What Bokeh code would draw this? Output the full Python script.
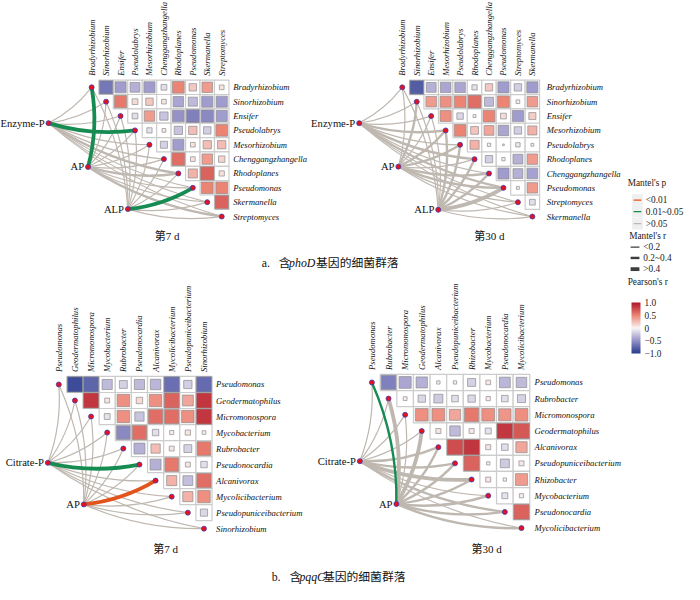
import numpy as np
from bokeh.plotting import figure
from bokeh.models import Range1d, ColumnDataSource, ColorBar, LinearColorMapper, FixedTicker
from bokeh.core.properties import value
from bokeh.embed import file_html
from bokeh.resources import INLINE

# ------------------------------------------------------------------ data
# (a) phoD, day 7
a7_taxa = ["Bradyrhizobium", "Sinorhizobium", "Ensifer", "Pseudolabrys", "Mesorhizobium",
           "Chenggangzhangella", "Rhodoplanes", "Pseudomonas", "Skermanella", "Streptomyces"]
a7_pearson = [
    [-0.65, -0.45, -0.35, -0.45, -0.12, 0.50, 0.20, 0.40, 0.08],
    [0.55, 0.12, 0.20, 0.08, -0.40, -0.30, -0.45, -0.45],
    [-0.12, 0.40, -0.25, -0.50, -0.60, -0.55, -0.45],
    [-0.10, 0.05, -0.25, 0.25, -0.20, 0.50],
    [-0.18, -0.45, 0.08, 0.25, 0.25],
    [0.60, 0.08, 0.40, 0.15],
    [0.30, 0.65, 0.10],
    [0.50, 0.50],
    [0.65],
]
a7_env = ["Enzyme-P", "AP", "ALP"]
a7_mantel_r = [
    [0.12, 0.10, 0.15, 0.45, 0.14, 0.11, 0.25, 0.13, 0.16, 0.09],
    [0.46, 0.12, 0.10, 0.14, 0.13, 0.11, 0.26, 0.15, 0.12, 0.24],
    [0.10, 0.12, 0.09, 0.14, 0.11, 0.13, 0.15, 0.42, 0.12, 0.10],
]
a7_mantel_p = [
    [0.42, 0.55, 0.31, 0.03, 0.28, 0.51, 0.12, 0.38, 0.27, 0.63],
    [0.02, 0.47, 0.58, 0.33, 0.41, 0.52, 0.11, 0.36, 0.44, 0.14],
    [0.61, 0.45, 0.66, 0.29, 0.52, 0.39, 0.27, 0.04, 0.43, 0.57],
]

# (a) phoD, day 30
a30_taxa = ["Bradyrhizobium", "Sinorhizobium", "Ensifer", "Mesorhizobium", "Pseudolabrys",
            "Rhodoplanes", "Chenggangzhangella", "Pseudomonas", "Streptomyces", "Skermanella"]
a30_pearson = [
    [-0.80, -0.35, -0.40, -0.40, -0.10, 0.20, -0.45, -0.20, -0.45],
    [0.40, 0.45, 0.50, 0.60, -0.30, 0.50, 0.05, 0.40],
    [0.45, -0.15, 0.03, 0.50, 0.12, -0.45, 0.18],
    [0.50, 0.22, 0.35, -0.40, -0.20, 0.30],
    [0.30, 0.04, 0.01, -0.07, 0.03],
    [-0.20, 0.04, -0.35, 0.40],
    [-0.45, -0.35, -0.42],
    [0.03, 0.40],
    [-0.12],
]
a30_env = ["Enzyme-P", "AP", "ALP"]
a30_mantel_r = [
    [0.10, 0.12, 0.14, 0.32, 0.15, 0.28, 0.16, 0.30, 0.12, 0.11],
    [0.11, 0.27, 0.13, 0.25, 0.30, 0.15, 0.28, 0.26, 0.12, 0.14],
    [0.09, 0.13, 0.12, 0.26, 0.30, 0.28, 0.32, 0.42, 0.15, 0.13],
]
a30_mantel_p = [
    [0.52, 0.44, 0.37, 0.09, 0.33, 0.12, 0.29, 0.10, 0.48, 0.56],
    [0.61, 0.13, 0.40, 0.15, 0.08, 0.35, 0.11, 0.14, 0.50, 0.42],
    [0.66, 0.39, 0.45, 0.14, 0.09, 0.12, 0.07, 0.06, 0.31, 0.47],
]

# (b) pqqC, day 7
b7_taxa = ["Pseudomonas", "Geodermatophilus", "Micromonospora", "Mycobacterium", "Rubrobacter",
           "Pseudonocardia", "Alcanivorax", "Mycolicibacterium", "Pseudopuniceibacterium", "Sinorhizobium"]
b7_pearson = [
    [-0.90, -0.75, -0.30, -0.18, -0.30, -0.32, -0.70, -0.20, -0.72],
    [0.85, 0.07, 0.45, 0.12, 0.45, 0.65, 0.35, 0.85],
    [-0.10, 0.45, -0.25, 0.60, 0.60, 0.45, 0.85],
    [-0.55, 0.60, -0.12, 0.05, 0.08, 0.04],
    [-0.35, 0.25, 0.07, -0.18, 0.55],
    [-0.35, 0.55, 0.07, -0.12],
    [0.30, -0.28, 0.60],
    [0.30, 0.45],
    [-0.15],
]
b7_env = ["Citrate-P", "AP"]
b7_mantel_r = [
    [0.12, 0.10, 0.13, 0.11, 0.14, 0.45, 0.12, 0.10, 0.13, 0.11],
    [0.13, 0.11, 0.12, 0.10, 0.14, 0.12, 0.46, 0.11, 0.13, 0.12],
]
b7_mantel_p = [
    [0.45, 0.58, 0.36, 0.62, 0.33, 0.02, 0.41, 0.55, 0.39, 0.48],
    [0.37, 0.52, 0.44, 0.66, 0.31, 0.47, 0.006, 0.51, 0.38, 0.43],
]

# (b) pqqC, day 30
b30_taxa = ["Pseudomonas", "Rubrobacter", "Micromonospora", "Geodermatophilus", "Alcanivorax",
            "Pseudopuniceibacterium", "Rhizobacter", "Mycobacterium", "Pseudonocardia", "Mycolicibacterium"]
b30_pearson = [
    [-0.60, -0.40, -0.35, 0.03, 0.03, -0.18, 0.06, -0.32, -0.30],
    [0.04, -0.15, -0.22, -0.12, -0.15, 0.05, -0.12, -0.18],
    [0.45, 0.45, 0.35, 0.55, 0.45, 0.42, 0.45],
    [0.07, -0.30, 0.07, -0.10, 0.85, 0.70],
    [0.75, 0.85, 0.07, -0.12, 0.35],
    [0.65, 0.03, -0.22, 0.07],
    [0.07, 0.03, 0.40],
    [-0.10, 0.05],
    [0.65],
]
b30_env = ["Citrate-P", "AP"]
b30_mantel_r = [
    [0.13, 0.12, 0.14, 0.15, 0.25, 0.27, 0.45, 0.16, 0.26, 0.14],
    [0.35, 0.48, 0.14, 0.42, 0.28, 0.26, 0.30, 0.27, 0.25, 0.28],
]
b30_mantel_p = [
    [0.41, 0.47, 0.35, 0.29, 0.13, 0.11, 0.07, 0.32, 0.12, 0.38],
    [0.03, 0.06, 0.44, 0.08, 0.12, 0.15, 0.10, 0.14, 0.16, 0.11],
]

titles_a = ["第7 d", "第30 d"]
titles_b = ["第7 d", "第30 d"]
colorbar_ticks = [-1.0, -0.5, 0.0, 0.5, 1.0]
colorbar_labels = ["\u22121.0", "\u22120.5", "0", "0.5", "1.0"]
mantel_p_labels = ["<0.01", "0.01~0.05", ">0.05"]
mantel_r_labels = ["<0.2", "0.2~0.4", ">0.4"]

# ------------------------------------------------------------------ style / layout
SERIF = "Liberation Serif"
MIXED = "'Liberation Serif', 'Noto Sans CJK SC'"
C_GRAY, C_GREEN, C_ORANGE = "#bfb8b0", "#178c52", "#e3531c"
W_THIN, W_MED, W_THICK = 1.2, 2.4, 3.8
STOPS = [(-1.0, (38, 58, 140)), (-0.5, (150, 146, 200)), (0.0, (250, 246, 246)),
         (0.5, (236, 132, 116)), (1.0, (176, 22, 40))]


def rcolor(r):
    r = max(-1.0, min(1.0, r))
    for (a, ca), (b, cb) in zip(STOPS[:-1], STOPS[1:]):
        if a <= r <= b:
            t = (r - a) / (b - a)
            c = [int(round(ca[k] + t * (cb[k] - ca[k]))) for k in range(3)]
            return "#%02x%02x%02x" % tuple(c)
    return "#ffffff"


def link_width(r):
    return W_THIN if r < 0.2 else (W_MED if r < 0.4 else W_THICK)


def link_color(pv):
    return C_ORANGE if pv < 0.01 else (C_GREEN if pv < 0.05 else C_GRAY)


W, H = 684, 584
p = figure(width=W, height=H, output_backend="svg", toolbar_location=None,
           x_range=Range1d(0, 698), y_range=Range1d(600, 0),
           x_axis_location=None, y_axis_location=None, min_border=0)
p.grid.visible = False
p.outline_line_color = None
p.background_fill_color = "white"

FS_TAXA = "8.7px"
FS_ENV = "10.6px"


def panel(taxa, pearson, env, mr, mp, L):
    n = len(taxa)
    cw, ch = L["cw"], L["ch"]
    cx = [L["x0"] + j * cw for j in range(n)]
    cy = [L["y0"] + i * ch for i in range(n)]
    xs, ys, ws, hs, cols = [], [], [], [], []
    for i in range(n):
        for j in range(i + 1, n):
            r = pearson[i][j - i - 1]
            f = min(0.95, 1.15 * np.sqrt(abs(r)))
            xs.append(cx[j]); ys.append(cy[i])
            ws.append(cw * f); hs.append(ch * f); cols.append(rcolor(r))
    p.rect(x=xs, y=ys, width=cw, height=ch, fill_color="white",
           line_color="#cccccc", line_width=1.2)
    p.rect(x=xs, y=ys, width=ws, height=hs, fill_color=cols,
           line_color="#8d8d8d", line_width=0.7)

    # mantel links
    ex, ey = L["env_x"], L["env_y"]
    rows = []
    for k in range(len(env)):
        for i in range(n):
            x0, y0, x1, y1 = ex[k], ey[k], cx[i], cy[i]
            dx, dy = x1 - x0, y1 - y0
            kc = 0.11
            rows.append(dict(x0=x0, y0=y0, x1=x1, y1=y1,
                             cx=(x0 + x1) / 2 - kc * dy, cy=(y0 + y1) / 2 + kc * dx,
                             w=link_width(mr[k][i]), c=link_color(mp[k][i]),
                             z=(0 if mp[k][i] >= 0.05 else 1)))
    rows.sort(key=lambda d: (d["z"], d["w"]))
    src = ColumnDataSource({key: [d[key] for d in rows] for key in rows[0]})
    p.quadratic(x0="x0", y0="y0", x1="x1", y1="y1", cx="cx", cy="cy",
                line_width="w", line_color="c", source=src)

    # dots
    p.scatter(x=cx + list(ex), y=cy + list(ey), size=5, fill_color="#e8101a",
              line_color="#3c3cb4", line_width=0.8)

    # labels
    p.text(x=[L["row_lab_x"]] * n, y=cy, text=taxa, text_font=value(SERIF),
           text_font_style="italic", text_font_size=FS_TAXA, text_align="left",
           text_baseline="middle", text_color="#111111")
    top = L["y0"] - ch / 2 - 4.5
    p.text(x=cx, y=[top] * n, text=taxa, angle=np.pi / 2, text_font=value(SERIF),
           text_font_style="italic", text_font_size=FS_TAXA, text_align="left",
           text_baseline="middle", text_color="#111111")
    p.text(x=[x - 4 for x in ex], y=ey, text=env, text_font=value(SERIF),
           text_font_size=FS_ENV, text_align="right", text_baseline="middle",
           text_color="#111111")
    p.text(x=[L["cap_x"]], y=[L["cap_y"]], text=[L["cap"]], text_font=value(MIXED),
           text_font_size="11px", text_align="center", text_baseline="middle",
           text_color="#111111")


panel(a7_taxa, a7_pearson, a7_env, a7_mantel_r, a7_mantel_p,
      dict(x0=93.0, y0=89.2, cw=14.75, ch=14.75, env_x=[49, 89.3, 130], env_y=[126, 171, 214.3],
           row_lab_x=237.5, cap_x=170, cap_y=241.7, cap=titles_a[0]))
panel(a30_taxa, a30_pearson, a30_env, a30_mantel_r, a30_mantel_p,
      dict(x0=410.0, y0=89.25, cw=14.75, ch=14.75, env_x=[366, 406, 446.7], env_y=[126, 170.7, 215],
           row_lab_x=557.5, cap_x=499, cap_y=242, cap=titles_a[1]))
panel(b7_taxa, b7_pearson, b7_env, b7_mantel_r, b7_mantel_p,
      dict(x0=59.5, y0=394.5, cw=16.46, ch=16.46, env_x=[48.3, 85], env_y=[475, 517.7],
           row_lab_x=220, cap_x=168.5, cap_y=563.7, cap=titles_b[0]))
panel(b30_taxa, b30_pearson, b30_env, b30_mantel_r, b30_mantel_p,
      dict(x0=379.0, y0=392.4, cw=16.96, ch=16.63, env_x=[366.7, 404], env_y=[473.3, 517.3],
           row_lab_x=545, cap_x=496, cap_y=564, cap=titles_b[1]))

# captions (a), (b)
CAP_FS = "11.8px"
def caption(parts, y):
    for x, t, ital in parts:
        p.text(x=[x], y=[y], text=[t], text_font=value(MIXED), text_font_size=CAP_FS,
               text_font_style=("italic" if ital else "normal"), text_align="left",
               text_baseline="middle", text_color="#111111")

caption([(266.7, "a.", False), (284, "含", False), (294.5, "phoD", True), (322, "基因的细菌群落", False)], 270)
caption([(276.7, "b.", False), (295, "含", False), (305, "pqqC", True), (329, "基因的细菌群落", False)], 592)

# ------------------------------------------------------------------ legends
LFS = "9.3px"
def ltext(x, y, t):
    p.text(x=[x], y=[y], text=[t], text_font=value(SERIF), text_font_size=LFS,
           text_align="left", text_baseline="middle", text_color="#222222")

ltext(640, 187, "Mantel's p")
py = [205, 217, 229.3]
p.quad(left=[644.5] * 3, right=[655.5] * 3, top=[y - 6 for y in py], bottom=[y + 6 for y in py],
       fill_color="#efefef", line_color=None)
p.segment(x0=[646] * 3, y0=py, x1=[654] * 3, y1=py, line_color=[C_ORANGE, C_GREEN, C_GRAY],
          line_width=1.2)
for y, t in zip(py, mantel_p_labels):
    ltext(658.5, y, t)

ltext(641.5, 242.3, "Mantel's r")
ry = [253.3, 264.5, 276]
p.segment(x0=[643] * 3, y0=ry, x1=[652] * 3, y1=ry, line_color="#3d3d3d",
          line_width=[W_THIN, W_MED, W_THICK])
for y, t in zip(ry, mantel_r_labels):
    ltext(656, y, t)

ltext(640, 289.5, "Pearson's r")

palette = [rcolor(v) for v in np.linspace(-1, 1, 256)]
mapper = LinearColorMapper(palette=palette, low=-1, high=1)
cb = ColorBar(color_mapper=mapper, width=9, height=51, location=(631, 231),
              ticker=FixedTicker(ticks=colorbar_ticks),
              major_label_overrides={t: l for t, l in zip(colorbar_ticks, colorbar_labels)},
              major_label_text_font=SERIF, major_label_text_font_size="9.3px",
              major_label_text_color="#222222", major_tick_line_color=None,
              bar_line_color=None, border_line_color=None, background_fill_alpha=0,
              padding=0, label_standoff=4, title=None)
p.add_layout(cb)

open("out.html", "w").write(file_html(p, INLINE))
